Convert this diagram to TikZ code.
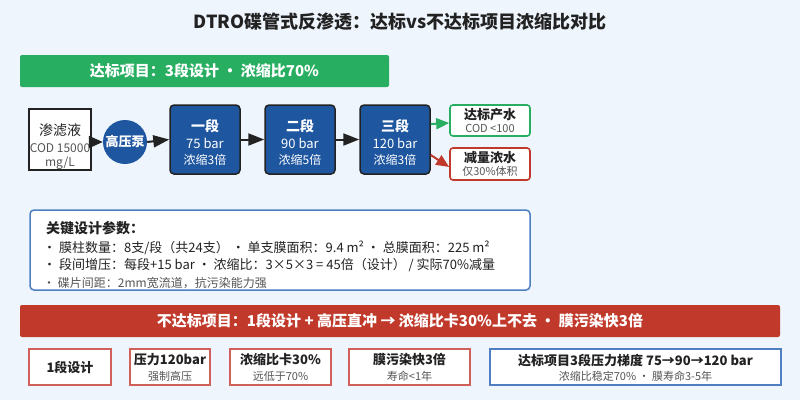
\documentclass[tikz,border=0pt]{standalone}
\usepackage{fontspec}
\setmainfont{Noto Sans CJK SC}
\usetikzlibrary{arrows.meta,calc}
\definecolor{bg}{HTML}{EEF5FD}
\definecolor{okgreen}{HTML}{27AE60}
\definecolor{badred}{HTML}{C0392B}
\definecolor{stageblue}{HTML}{1E56A0}
\definecolor{keyblue}{HTML}{4F7FC1}
\definecolor{softred}{HTML}{D0605A}
\definecolor{ink}{HTML}{222222}
\definecolor{subgray}{HTML}{555555}
\tikzset{
  txt/.style={inner sep=0pt, text=ink},
  banner/.style={rounded corners=2pt, inner sep=0pt, text=white, font=\bfseries\fontsize{15}{18}\selectfont},
  stagebox/.style={draw=ink, line width=1.5pt, fill=stageblue, rounded corners=4pt, minimum width=70pt, minimum height=69pt, inner sep=0pt},
  outbox/.style={fill=white, line width=1.6pt, rounded corners=3pt, minimum width=80pt, minimum height=31pt, inner sep=0pt},
  botbox/.style={fill=white, line width=1.6pt, minimum height=36pt, inner sep=0pt},
  arr/.style={line width=2pt, draw=ink, -{Triangle[length=16pt,width=12pt]}},
  stw/.style={inner sep=0pt, text=white},
  bhead/.style={txt, font=\bfseries\fontsize{13}{15}\selectfont},
  bsub/.style={inner sep=0pt, text=subgray, font=\fontsize{11}{13}\selectfont},
  keyline/.style={anchor=west, inner sep=0pt, text=ink, font=\fontsize{13}{15}\selectfont}
}
\begin{document}
\begin{tikzpicture}[x=1pt,y=-1pt]
\fill[bg] (0,0) rectangle (800,400);
\useasboundingbox (0,0) rectangle (800,400);

% title
\node[txt, font=\bfseries\fontsize{18}{21}\selectfont] (title) at (400,22) {DTRO碟管式反渗透：达标vs不达标项目浓缩比对比};

% green banner
\node[banner, fill=okgreen, minimum width=369pt, minimum height=32pt] (gban) at (204.5,71) {达标项目：3段设计 · 浓缩比70\%};

% feed box
\node[draw=ink, line width=1.6pt, fill=white, minimum width=62pt, minimum height=61pt, inner sep=0pt] (feed) at (60,139.5) {};
\node[txt, font=\fontsize{14}{16}\selectfont] (feedA) at (60,130) {渗滤液};
\node[txt, text=subgray, font=\fontsize{12}{14}\selectfont] (feedB) at (60,148) {COD 15000};
\node[txt, text=subgray, font=\fontsize{12}{14}\selectfont] (feedC) at (60,163) {mg/L};

% pump
\node[circle, fill=stageblue, minimum size=44pt, inner sep=0pt, text=white, font=\bfseries\fontsize{13}{15}\selectfont] (pump) at (125,142) {高压泵};

% stages
\node[stagebox] (s1) at (205,139.5) {};
\node[stagebox] (s2) at (300,139.5) {};
\node[stagebox] (s3) at (395,139.5) {};
\foreach \n/\x/\a/\b/\c in {s1/205/一段/75 bar/浓缩3倍, s2/300/二段/90 bar/浓缩5倍, s3/395/三段/120 bar/浓缩3倍}{
  \node[stw, font=\bfseries\fontsize{14}{16}\selectfont] (\n a) at (\x,126) {\a};
  \node[stw, font=\fontsize{13}{15}\selectfont] (\n b) at (\x,143.5) {\b};
  \node[stw, font=\fontsize{12}{14}\selectfont] (\n c) at (\x,160) {\c};
}

% outputs
\node[outbox, draw=okgreen] (good) at (490,120.5) {};
\node[bhead] (goodA) at (490,114.5) {达标产水};
\node[bsub, text=subgray] (goodB) at (490,128) {COD <100};
\node[outbox, draw=badred, minimum height=32pt] (bad) at (490,164) {};
\node[bhead] (badA) at (490,158) {减量浓水};
\node[bsub] (badB) at (490,171.5) {仅30\%体积};

% connectors
\draw[arr, -{Triangle[length=14pt,width=12pt]}] (feed.east |- pump.west) -- (pump.west);
\draw[arr] (pump.east) -- (s1.west);
\draw[arr] (s1.east) -- (s2.west);
\draw[arr] (s2.east) -- (s3.west);
\draw[line width=2pt, draw=okgreen, -{Triangle[length=13pt,width=11pt]}] (s3.east |- 0,124) -- (good.west |- 0,123);
\draw[line width=2pt, draw=badred, -{Triangle[length=13pt,width=11pt]}] (s3.east |- 0,155) -- ($(bad.west)+(0,3)$);

% key parameters
\node[draw=keyblue, line width=1.5pt, fill=white, rounded corners=4pt, minimum width=500pt, minimum height=80pt, inner sep=0pt] (key) at (280,250) {};
\node[anchor=west, inner sep=0pt, text=ink, font=\bfseries\fontsize{14}{16}\selectfont] (keyT) at (46,228) {关键设计参数：};
\node[keyline] (k1) at (43,247.5) {・ 膜柱数量：8支/段（共24支） ・ 单支膜面积：9.4 m² ・ 总膜面积：225 m²};
\node[keyline] (k2) at (43,265.5) {・ 段间增压：每段+15 bar ・ 浓缩比：3×5×3 = 45倍（设计） / 实际70\%减量};
\node[keyline, text=subgray, font=\fontsize{12}{14}\selectfont] (k3) at (43,283) {・ 碟片间距：2mm宽流道，抗污染能力强};

% red banner
\node[banner, fill=badred, minimum width=760pt, minimum height=32pt] (rban) at (400,321) {不达标项目：1段设计 + 高压直冲 → 浓缩比卡30\%上不去 · 膜污染快3倍};

% bottom boxes
\node[botbox, draw=softred, minimum width=82pt] (b1) at (70,367) {};
\node[bhead] (b1a) at (70,367) {1段设计};
\node[botbox, draw=softred, minimum width=80pt] (b2) at (170,367) {};
\node[bhead] (b2a) at (170,360) {压力120bar};
\node[bsub] (b2b) at (170,376) {强制高压};
\node[botbox, draw=softred, minimum width=101pt] (b3) at (280.5,367) {};
\node[bhead] (b3a) at (280.5,360) {浓缩比卡30\%};
\node[bsub] (b3b) at (280.5,376) {远低于70\%};
\node[botbox, draw=softred, minimum width=121pt] (b4) at (409.5,367) {};
\node[bhead] (b4a) at (409.5,360) {膜污染快3倍};
\node[bsub] (b4b) at (409.5,376) {寿命<1年};
\node[botbox, draw=keyblue, minimum width=291pt] (b5) at (635.5,367) {};
\node[bhead] (b5a) at (635.5,360) {达标项目3段压力梯度 75→90→120 bar};
\node[bsub] (b5b) at (635.5,376) {浓缩比稳定70\% · 膜寿命3-5年};
\end{tikzpicture}
\end{document}
